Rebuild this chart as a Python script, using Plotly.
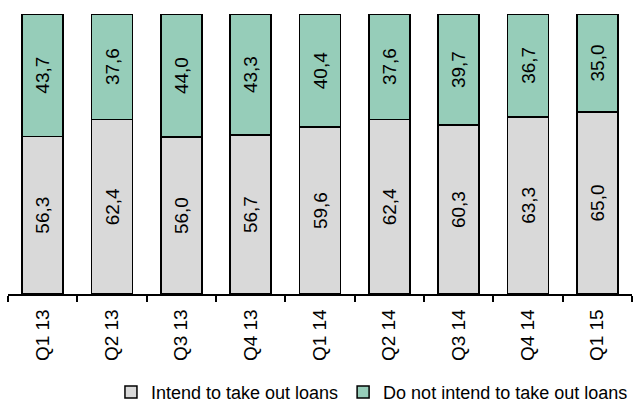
import plotly.graph_objects as go

quarters = ["Q1 13", "Q2 13", "Q3 13", "Q4 13", "Q1 14", "Q2 14", "Q3 14", "Q4 14", "Q1 15"]
intend = [56.3, 62.4, 56.0, 56.7, 59.6, 62.4, 60.3, 63.3, 65.0]
not_intend = [43.7, 37.6, 44.0, 43.3, 40.4, 37.6, 39.7, 36.7, 35.0]


def fmt(vals):
    # comma as decimal separator
    return [f"{v:.1f}".replace(".", ",") for v in vals]


fig = go.Figure()
fig.add_trace(go.Bar(
    x=quarters, y=intend, name="Intend to take out loans",
    marker=dict(color="#D9D9D9", line=dict(color="black", width=1.5)),
    text=fmt(intend), textposition="inside", textangle=-90,
    insidetextanchor="middle",
    textfont=dict(family="Arial, Liberation Sans", size=19, color="black"),
))
fig.add_trace(go.Bar(
    x=quarters, y=not_intend, name="Do not intend to take out loans",
    marker=dict(color="#96CDB9", line=dict(color="black", width=1.5)),
    text=fmt(not_intend), textposition="inside", textangle=-90,
    insidetextanchor="middle",
    textfont=dict(family="Arial, Liberation Sans", size=19, color="black"),
))

fig.update_layout(
    barmode="stack",
    bargap=0.41,
    width=636, height=403,
    margin=dict(l=8, r=4, t=14, b=109, autoexpand=False),
    plot_bgcolor="white", paper_bgcolor="white",
    font=dict(family="Arial, Liberation Sans", size=16, color="black"),
    uniformtext=dict(minsize=19, mode="show"),
    showlegend=True,
    legend=dict(orientation="h", x=0.165, xanchor="left", y=-0.285, yanchor="top",
                font=dict(size=18), itemwidth=30, traceorder="normal",
                tracegroupgap=0),
    xaxis=dict(
        showline=True, linecolor="black", linewidth=1.5,
        ticks="outside", tickson="boundaries", ticklen=6, tickcolor="black",
        tickwidth=1.5, tickangle=-90, tickfont=dict(size=19), showgrid=False,
        automargin=False, ticklabelstandoff=6,
    ),
    yaxis=dict(range=[0, 100], visible=False, showgrid=False),
)

# drop the default page margin so the chart sits at the window corner
fig.write_html("out.html", config={"displayModeBar": False},
               post_script="document.body.style.margin='0';")
